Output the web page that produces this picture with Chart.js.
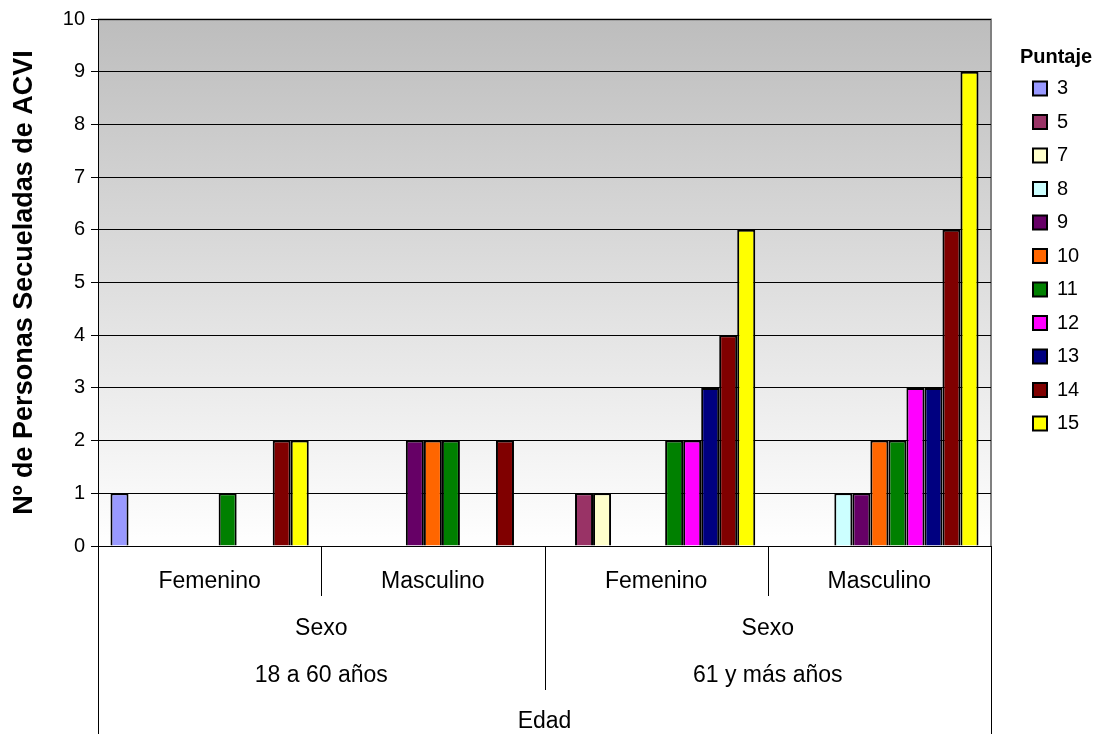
<!DOCTYPE html>
<html>
<head>
<meta charset="utf-8">
<script src="https://cdn.jsdelivr.net/npm/chart.js@4"></script>
<style>
  html, body { margin: 0; padding: 0; background: #ffffff; }
  #wrap { width: 1104px; height: 734px; }
</style>
</head>
<body>
<div id="wrap"><canvas id="chart" width="1104" height="734"></canvas></div>
<script>
// Categories: Sexo within each Edad band
const sexo = ['Femenino', 'Masculino', 'Femenino', 'Masculino'];
const edad = ['18 a 60 años', '61 y más años'];
const nivelSexo = 'Sexo';
const nivelEdad = 'Edad';

// Puntaje series (number of people per category; null = none)
const puntajes = ['3', '5', '7', '8', '9', '10', '11', '12', '13', '14', '15'];
const p3  = [1, null, null, null];
const p5  = [null, null, 1, null];
const p7  = [null, null, 1, null];
const p8  = [null, null, null, 1];
const p9  = [null, 2, null, 1];
const p10 = [null, 2, null, 2];
const p11 = [1, 2, 2, 2];
const p12 = [null, null, 2, 3];
const p13 = [null, null, 3, 3];
const p14 = [2, 2, 4, 6];
const p15 = [2, null, 6, 9];
const yTicks = [0, 1, 2, 3, 4, 5, 6, 7, 8, 9, 10];

const seriesValues = [p3, p5, p7, p8, p9, p10, p11, p12, p13, p14, p15];
const colores = ['#9999FF', '#993366', '#FFFFCC', '#CCFFFF', '#660066', '#FF6600',
                 '#008000', '#FF00FF', '#000080', '#800000', '#FFFF00'];

const FONT = "'Liberation Sans', Arial, sans-serif";

// Grey-to-white plot background with a grey frame
const plotBackground = {
  id: 'plotBackground',
  beforeDraw(chart) {
    const { ctx, chartArea: a } = chart;
    const g = ctx.createLinearGradient(0, a.top, 0, a.bottom);
    g.addColorStop(0, '#BDBDBD');
    g.addColorStop(1, '#FFFFFF');
    ctx.save();
    ctx.fillStyle = g;
    ctx.fillRect(a.left, a.top, a.right - a.left, a.bottom - a.top);
    ctx.strokeStyle = '#808080';
    ctx.lineWidth = 2;
    ctx.beginPath();
    ctx.moveTo(a.left, a.top + 0.5);
    ctx.lineTo(a.right, a.top + 0.5);
    ctx.lineTo(a.right, a.bottom);
    ctx.stroke();
    ctx.restore();
  }
};

// Keeps the legend column at the far right of the canvas
const legendPlacement = {
  id: 'legendPlacement',
  afterLayout(chart) {
    const lg = chart.legend;
    if (!lg) return;
    lg.left = 1019.5;
    lg.width = 73;
    lg.right = lg.left + lg.width;
  }
};

// Nested category axis: Sexo labels, Sexo level name, Edad bands, Edad level name
const nestedAxis = {
  id: 'nestedAxis',
  afterDraw(chart) {
    const { ctx, chartArea: a } = chart;
    const x = chart.scales.x;
    const n = sexo.length;
    const step = (a.right - a.left) / n;
    const edges = [];
    for (let i = 0; i <= n; i++) {
      edges.push(i < n ? x.getPixelForValue(i) - step / 2 : x.getPixelForValue(n - 1) + step / 2);
    }
    const base = a.bottom;
    ctx.save();
    ctx.strokeStyle = '#000000';
    ctx.lineWidth = 1;
    const vline = (px, y2) => {
      const xx = Math.round(px) + 0.5;
      ctx.beginPath();
      ctx.moveTo(xx, base);
      ctx.lineTo(xx, y2);
      ctx.stroke();
    };
    vline(edges[0], 734);
    vline(edges[n], 734);
    vline(edges[2], base + 144);
    vline(edges[1], base + 50);
    vline(edges[3], base + 50);

    ctx.fillStyle = '#000000';
    ctx.textAlign = 'center';
    ctx.textBaseline = 'middle';
    ctx.font = '23px ' + FONT;
    sexo.forEach((s, i) => {
      ctx.fillText(s, (edges[i] + edges[i + 1]) / 2, base + 36);
    });
    edad.forEach((e, j) => {
      const cx = (edges[2 * j] + edges[2 * j + 2]) / 2;
      ctx.fillText(nivelSexo, cx, base + 83);
      ctx.fillText(e, cx, base + 130);
    });
    ctx.fillText(nivelEdad, (edges[0] + edges[n]) / 2, base + 176);
    ctx.restore();
  }
};

const datasets = puntajes.map((p, i) => ({
  label: p,
  data: seriesValues[i],
  backgroundColor: colores[i],
  borderColor: '#000000',
  borderWidth: 2,
  categoryPercentage: 0.888,
  barPercentage: 1.0,
  skipNull: false
}));

new Chart(document.getElementById('chart'), {
  type: 'bar',
  data: { labels: sexo, datasets },
  plugins: [plotBackground, legendPlacement, nestedAxis],
  options: {
    responsive: false,
    animation: false,
    events: [],
    layout: { padding: { top: 19, right: 53, left: 0, bottom: 0 } },
    scales: {
      x: {
        grid: { display: false },
        border: { display: true, color: '#000000', width: 1 },
        ticks: { display: false },
        afterFit(scale) { scale.height = 188; }
      },
      y: {
        min: 0,
        max: 10,
        afterBuildTicks(scale) { scale.ticks = yTicks.map(v => ({ value: v })); },
        ticks: {
          color: '#000000',
          font: { family: FONT, size: 20 },
          padding: 6
        },
        grid: { color: '#000000', lineWidth: 1, tickLength: 7, drawOnChartArea: true },
        border: { display: true, color: '#000000', width: 1 },
        title: {
          display: true,
          text: 'Nº de Personas Secueladas de ACVI',
          color: '#000000',
          font: { family: FONT, size: 27, weight: 'bold' },
          padding: { top: 8, bottom: 0 }
        },
        afterFit(scale) { scale.width = 98; }
      }
    },
    plugins: {
      tooltip: { enabled: false },
      legend: {
        position: 'right',
        align: 'start',
        maxWidth: 60,
        title: {
          display: true,
          text: 'Puntaje',
          color: '#000000',
          font: { family: FONT, size: 20, weight: 'bold' },
          padding: { top: 28, bottom: -6 }
        },
        labels: {
          color: '#000000',
          font: { family: FONT, size: 20 },
          boxWidth: 14,
          boxHeight: 14,
          padding: 13.5
        }
      }
    }
  }
});
</script>
</body>
</html>
